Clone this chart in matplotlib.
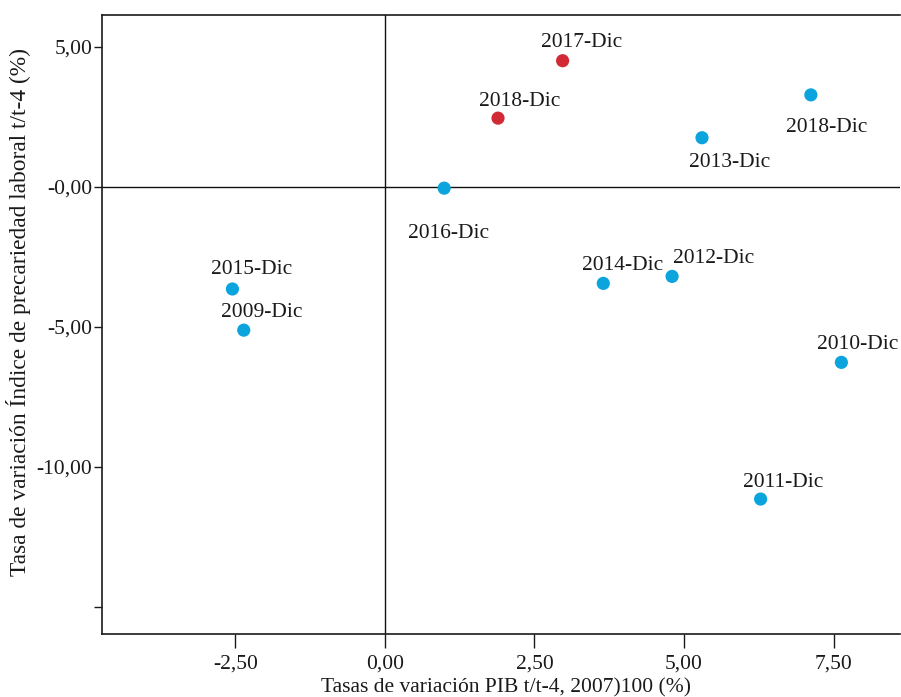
import matplotlib
matplotlib.use("Agg")
import matplotlib.pyplot as plt

# Data
labels = ["2017-Dic", "2018-Dic", "2016-Dic", "2013-Dic", "2018-Dic", "2015-Dic",
          "2009-Dic", "2014-Dic", "2012-Dic", "2010-Dic", "2011-Dic"]
pib = [2.97, 1.89, 0.99, 5.3, 7.12, -2.55, -2.36, 3.65, 4.8, 7.63, 6.28]
precariedad = [4.5, 2.45, -0.05, 1.75, 3.28, -3.65, -5.12, -3.45, -3.2, -6.27, -11.15]
groups = ["red", "red", "blue", "blue", "blue", "blue", "blue", "blue", "blue", "blue", "blue"]
label_offsets = [(19, 18), (22, 17), (4, -45), (28, -25), (16, -33), (19, 19),
                 (18, 18), (19, 18), (42, 18), (16, 18), (23, 17)]

xticks = [-2.5, 0.0, 2.5, 5.0, 7.5]
xticklabels = ["-2,50", "0,00", "2,50", "5,00", "7,50"]
yticks = [5.0, 0.0, -5.0, -10.0, -15.0]
yticklabels = ["5,00", "-0,00", "-5,00", "-10,00", ""]

colors = {"red": "#d12a35", "blue": "#0ba4dc"}

plt.rcParams['font.family'] = ['Liberation Serif', 'DejaVu Serif']

fig = plt.figure(figsize=(9.01, 6.97), dpi=100)
ax = fig.add_axes([102 / 901, 1 - 633.5 / 697, (900 - 102) / 901, (633.5 - 14.5) / 697])

ax.set_xlim(-4.73, 8.61)
ax.set_ylim(-15.95, 6.15)

ax.axhline(0, color="#111111", lw=1.0, zorder=1)
ax.axvline(0, color="#111111", lw=1.0, zorder=1)

for x, y, g in zip(pib, precariedad, groups):
    ax.scatter([x], [y], s=90, color=colors[g], edgecolors="none", zorder=3)

for x, y, lab, off in zip(pib, precariedad, labels, label_offsets):
    ax.annotate(lab, (x, y), xytext=off, textcoords="offset pixels",
                ha="center", va="center", fontsize=15.5, color="#1a1a1a")

ax.set_xticks(xticks)
ax.set_xticklabels(xticklabels)
ax.set_yticks(yticks)
ax.set_yticklabels(yticklabels)
ax.tick_params(axis="both", direction="out", width=1, labelsize=15.5, colors="#1a1a1a")
ax.tick_params(axis="x", length=10, pad=5)
ax.tick_params(axis="y", length=6, pad=1)

for side in ["left", "bottom", "top"]:
    ax.spines[side].set_color("#1a1a1a")
    ax.spines[side].set_linewidth(1.2)
ax.spines["right"].set_visible(False)

ax.set_xlabel("Tasas de variación PIB t/t-4, 2007)100 (%)", fontsize=15.5, color="#1a1a1a")
ax.xaxis.set_label_coords(0.506, -0.072)
ax.set_ylabel("Tasa de variación Índice de precariedad laboral t/t-4 (%)", fontsize=16.8,
              color="#1a1a1a")
ax.yaxis.set_label_coords(-0.089, 0.519)

fig.savefig("out.png", dpi=100)
